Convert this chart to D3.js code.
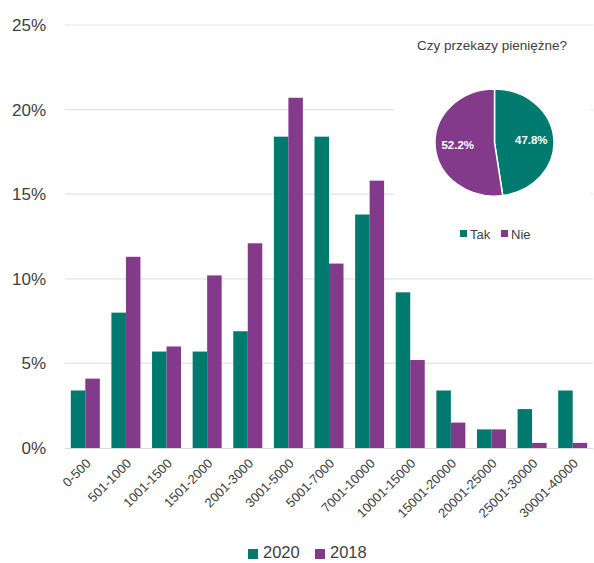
<!DOCTYPE html>
<html><head><meta charset="utf-8">
<script src="https://cdn.jsdelivr.net/npm/d3@7/dist/d3.min.js"></script>
<style>body{margin:0;background:#fff}svg{display:block;font-family:"Liberation Sans",Arial,sans-serif}</style>
</head><body>
<svg id="c" width="594" height="563"></svg>
<script>
const categories = ["0-500","501-1000","1001-1500","1501-2000","2001-3000","3001-5000","5001-7000","7001-10000","10001-15000","15001-20000","20001-25000","25001-30000","30001-40000"];
const series2020 = [3.4,8.0,5.7,5.7,6.9,18.4,18.4,13.8,9.2,3.4,1.1,2.3,3.4];
const series2018 = [4.1,11.3,6.0,10.2,12.1,20.7,10.9,15.8,5.2,1.5,1.1,0.3,0.3];
const seriesNames = ["2020","2018"];
const yTicks = [0,5,10,15,20,25];
const pieLabels = ["Tak","Nie"];
const pieValues = [47.8,52.2];
const pieTitle = "Czy przekazy pieniężne?";
const colors = {"2020":"#00796F","2018":"#833A8B"};
const pieColors = ["#00796F","#833A8B"];

const svg = d3.select("#c");
const x0 = d3.scaleBand().domain(categories).range([65,593]).paddingInner(0.286).paddingOuter(0.143);
const x1 = d3.scaleBand().domain(seriesNames).range([0,x0.bandwidth()]);
const y = d3.scaleLinear().domain([0,25]).range([448,25]);

// gridlines
svg.append("g").selectAll("line").data(yTicks.filter(d=>d>0)).join("line")
  .attr("x1",65).attr("x2",593).attr("y1",d=>y(d)).attr("y2",d=>y(d))
  .attr("stroke","#e3e3e3").attr("stroke-width",1.2);

// y labels
svg.append("g").selectAll("text").data(yTicks).join("text")
  .attr("x",46).attr("y",d=>y(d)).attr("dy","0.35em").attr("text-anchor","end")
  .attr("font-size",17).attr("fill","#404040").text(d=>d+"%");

// bars
const data = categories.map((c,i)=>({c, vals:[{k:"2020",v:series2020[i]},{k:"2018",v:series2018[i]}]}));
const g = svg.append("g").selectAll("g").data(data).join("g").attr("transform",d=>`translate(${x0(d.c)},0)`);
g.selectAll("rect").data(d=>d.vals).join("rect")
  .attr("x",d=>x1(d.k)).attr("width",x1.bandwidth())
  .attr("y",d=>y(d.v)).attr("height",d=>y(0)-y(d.v))
  .attr("fill",d=>colors[d.k]);

// baseline
svg.append("line").attr("x1",65).attr("x2",593).attr("y1",y(0)+0.5).attr("y2",y(0)+0.5).attr("stroke","#d9d9d9").attr("stroke-width",1.2);

// x labels
svg.append("g").selectAll("text").data(categories).join("text")
  .attr("transform",d=>`translate(${x0(d)+x0.bandwidth()/2+3},${461}) rotate(-45)`)
  .attr("text-anchor","end").attr("dy","0.35em").attr("font-size",13).attr("fill","#404040").text(d=>d);

// bottom legend
const lg = svg.append("g");
const legPos = [{x:248,tx:263},{x:315,tx:330}];
seriesNames.forEach((s,i)=>{
  lg.append("rect").attr("x",legPos[i].x).attr("y",549).attr("width",10).attr("height",10).attr("fill",colors[s]);
  lg.append("text").attr("x",legPos[i].tx).attr("y",558).attr("font-size",16.5).attr("fill","#404040").text(s);
});

// pie inset
const pg = svg.append("g");
pg.append("rect").attr("x",394).attr("y",31).attr("width",197).attr("height",222).attr("fill","#fff");
pg.append("text").attr("x",492).attr("y",50).attr("text-anchor","middle").attr("font-size",13.5).attr("fill","#404040").text(pieTitle);
const cx=494.5, cy=142.5, rx=59.5, ry=53.5;
const pie = d3.pie().sort(null).value(d=>d)(pieValues);
const arc = d3.arc().innerRadius(0).outerRadius(rx);
const pieG = pg.append("g").attr("transform",`translate(${cx},${cy}) scale(1,${ry/rx})`);
pieG.selectAll("path").data(pie).join("path").attr("d",arc).attr("fill",(d,i)=>pieColors[i])
  .attr("stroke","#fff").attr("stroke-width",1.5);
const lblArc = d3.arc().innerRadius(rx*0.62).outerRadius(rx*0.62);
pg.selectAll("text.pl").data(pie).join("text").attr("class","pl")
  .attr("x",d=>cx+lblArc.centroid(d)[0]).attr("y",d=>cy+lblArc.centroid(d)[1]*ry/rx)
  .attr("text-anchor","middle").attr("dy","0.35em").attr("font-size",11.5).attr("font-weight","bold").attr("fill","#fff")
  .text(d=>d.value.toFixed(1)+"%");
const pl = [{x:460,tx:470},{x:501,tx:511}];
pieLabels.forEach((s,i)=>{
  pg.append("rect").attr("x",pl[i].x).attr("y",230).attr("width",7).attr("height",7).attr("fill",pieColors[i]);
  pg.append("text").attr("x",pl[i].tx).attr("y",234).attr("dy","0.35em").attr("font-size",13).attr("fill","#404040").text(s);
});
</script>
</body></html>
